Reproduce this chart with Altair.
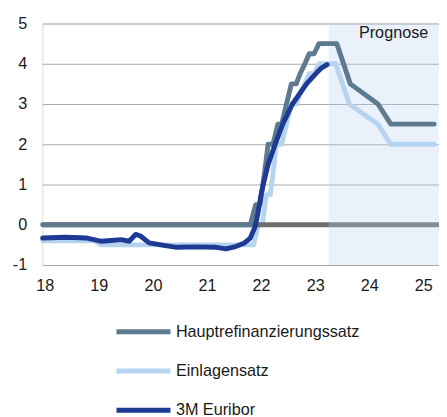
import altair as alt
import pandas as pd

# ---- data ----
x_tick_values = [18, 19, 20, 21, 22, 23, 24, 25]
y_tick_values = [-1, 0, 1, 2, 3, 4, 5]
x_domain = [17.955, 25.29]
y_domain = [-1, 5]

series_names = ["Hauptrefinanzierungssatz", "Einlagensatz", "3M Euribor"]
series_colors = ["#5E7A8F", "#B6D4F0", "#1D3A94"]

mro_x = [17.96, 21.80, 21.90, 21.98, 22.06, 22.13, 22.22, 22.31, 22.38, 22.47,
         22.56, 22.65, 22.72, 22.81, 22.89, 22.98, 23.07, 23.40, 23.65, 24.16,
         24.40, 25.20]
mro_y = [0, 0, 0.5, 0.5, 1.25, 2.0, 2.0, 2.5, 2.5, 3.0,
         3.5, 3.5, 3.75, 4.0, 4.25, 4.25, 4.5, 4.5, 3.5, 3.0,
         2.5, 2.5]

dep_x = [17.96, 18.93, 19.03, 21.86, 21.95, 22.02, 22.10, 22.17, 22.24, 22.28,
         22.38, 22.47, 22.56, 22.65, 22.72, 22.81, 22.89, 22.98, 23.07, 23.38,
         23.63, 24.16, 24.40, 25.20]
dep_y = [-0.4, -0.4, -0.5, -0.5, 0, 0, 0.75, 0.75, 1.5, 2.0,
         2.0, 2.5, 3.0, 3.0, 3.25, 3.5, 3.75, 3.75, 4.0, 4.0,
         3.0, 2.5, 2.0, 2.0]

eur_x = [17.96, 18.38, 18.78, 19.05, 19.23, 19.41, 19.56, 19.68, 19.77, 19.93,
         20.20, 20.44, 20.80, 21.17, 21.35, 21.53, 21.68, 21.80, 21.89, 21.95,
         22.00, 22.04, 22.13, 22.26, 22.40, 22.58, 22.84, 23.03, 23.12, 23.22]
eur_y = [-0.33, -0.31, -0.33, -0.41, -0.39, -0.37, -0.41, -0.24, -0.28, -0.45,
         -0.51, -0.56, -0.55, -0.56, -0.60, -0.54, -0.46, -0.33, -0.05, 0.35,
         0.75, 1.0, 1.5, 2.0, 2.5, 3.0, 3.5, 3.78, 3.9, 3.98]

prognose_start = 23.25
prognose_label = "Prognose"
prognose_label_x = 24.45
prognose_label_y = 4.75

FONT = "Liberation Sans"

def series_df(name, xs, ys):
    return pd.DataFrame({"x": xs, "y": ys, "series": name})

x_enc = alt.X("x:Q", scale=alt.Scale(domain=x_domain, nice=False, zero=False),
              axis=alt.Axis(values=x_tick_values, format="d", grid=False, domain=False,
                            ticks=False, labelPadding=13, labelFontSize=16.5,
                            labelColor="#1a1a1a", labelFont=FONT, title=None))
y_enc = alt.Y("y:Q", scale=alt.Scale(domain=y_domain, nice=False, zero=False),
              axis=alt.Axis(values=y_tick_values, grid=True, gridColor="#A8A8A8",
                            gridWidth=1, domain=False, ticks=False, labelPadding=16,
                            labelExpr="'' + datum.value",
                            labelFontSize=16.5, labelColor="#1a1a1a", labelFont=FONT,
                            title=None))

color_enc = alt.Color(
    "series:N",
    scale=alt.Scale(domain=series_names, range=series_colors),
    legend=alt.Legend(orient="none", legendX=73, legendY=284, direction="vertical",
                      title=None, symbolType="stroke", symbolSize=3025,
                      symbolStrokeWidth=5, labelFontSize=16.5, labelFont=FONT,
                      labelColor="#1a1a1a", labelOffset=3, labelLimit=400,
                      rowPadding=0, padding=0),
)

zero_df = pd.DataFrame({"y": [0]})
zero = alt.Chart(zero_df).mark_rule(color="#6F6F6F", strokeWidth=5).encode(
    y=alt.Y("y:Q", scale=alt.Scale(domain=y_domain, nice=False, zero=False))
)

shade_df = pd.DataFrame({"x": [prognose_start], "x2": [x_domain[1]],
                         "y": [y_domain[0]], "y2": [y_domain[1]]})
shade = alt.Chart(shade_df).mark_rect(color="rgb(184,208,238)", opacity=0.3).encode(
    x=alt.X("x:Q", scale=alt.Scale(domain=x_domain, nice=False, zero=False)),
    x2="x2:Q",
    y=alt.Y("y:Q", scale=alt.Scale(domain=y_domain, nice=False, zero=False)),
    y2="y2:Q",
)

def line_layer(name, xs, ys):
    return alt.Chart(series_df(name, xs, ys)).mark_line(
        strokeWidth=5, strokeCap="round", strokeJoin="round"
    ).encode(x=x_enc, y=y_enc, color=color_enc)

dep = line_layer(series_names[1], dep_x, dep_y)
mro = line_layer(series_names[0], mro_x, mro_y)
eur = line_layer(series_names[2], eur_x, eur_y)

label_df = pd.DataFrame({"x": [prognose_label_x], "y": [prognose_label_y],
                         "t": [prognose_label]})
label = alt.Chart(label_df).mark_text(font=FONT, fontSize=16.5, color="#1a1a1a",
                                      align="center", baseline="middle").encode(
    x=alt.X("x:Q", scale=alt.Scale(domain=x_domain, nice=False, zero=False)),
    y=alt.Y("y:Q", scale=alt.Scale(domain=y_domain, nice=False, zero=False)),
    text="t:N",
)

chart = alt.layer(dep, zero, shade, mro, eur, label).properties(
    width=404, height=246,
    autosize=alt.AutoSizeParams(type="none"),
    padding={"left": 35, "top": 12, "right": 0, "bottom": 151},
).configure_view(stroke=None).configure(background="white")

chart.save("out.html", embed_options={"renderer": "svg", "actions": False})
